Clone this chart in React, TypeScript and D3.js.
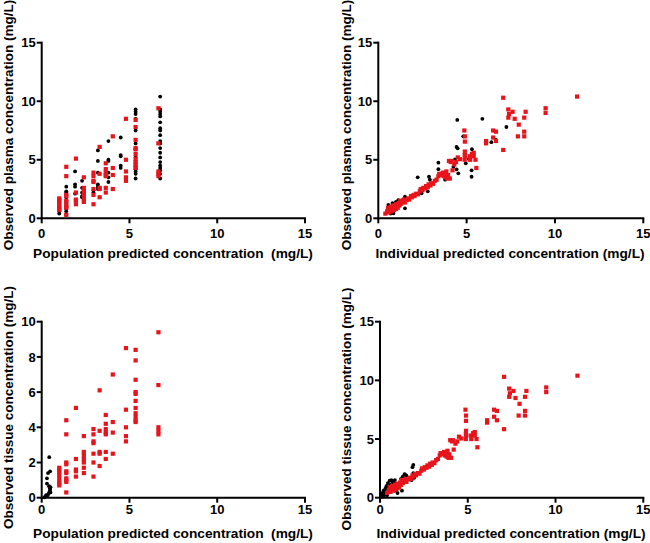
import React from "react";
import * as d3 from "d3";

// ---------- data ----------
// Panel A (population predicted vs observed plasma) - black series
const popPlasmaBlack: [number, number][] = [
  [1.0, 0.4], [1.0, 0.6], [1.0, 0.9], [1.0, 1.1], [1.0, 1.3],
  [1.4, 0.3], [1.4, 0.6], [1.4, 0.8], [1.4, 1.0], [1.4, 1.3], [1.4, 1.5], [1.4, 1.8], [1.4, 2.0], [1.4, 2.2], [1.4, 2.3], [1.4, 2.7],
  [1.9, 2.1], [1.9, 2.7], [1.9, 2.9], [1.9, 4.0],
  [2.3, 1.8], [2.3, 1.9], [2.3, 2.2], [2.3, 2.6], [2.3, 3.2],
  [2.95, 2.2], [2.95, 2.4],
  [3.2, 2.5], [3.2, 2.7], [3.2, 2.9], [3.2, 3.9], [3.2, 4.9], [3.2, 5.8],
  [3.8, 3.1], [3.8, 3.5], [3.8, 3.9], [3.8, 4.9], [3.8, 5.0], [3.8, 6.6],
  [4.5, 4.3], [4.5, 4.5], [4.5, 5.3], [4.5, 5.4], [4.5, 6.9],
  [5.35, 3.4], [5.35, 3.8], [5.35, 4.0], [5.35, 4.2], [5.35, 4.9], [5.35, 5.2], [5.35, 5.9], [5.35, 6.4], [5.35, 7.5], [5.35, 8.5], [5.35, 8.9], [5.35, 9.1], [5.35, 9.3],
  [6.75, 3.4], [6.75, 3.8], [6.75, 4.1], [6.75, 4.3], [6.75, 4.5], [6.75, 4.8], [6.75, 5.2], [6.75, 5.6], [6.75, 6.0], [6.75, 6.4], [6.75, 6.6], [6.75, 7.1], [6.75, 7.5], [6.75, 7.7], [6.75, 8.2], [6.75, 8.7], [6.75, 8.9], [6.75, 9.1], [6.75, 9.3], [6.75, 10.4],
];

// Red series vs population predicted (shared by panels A and C)
const popRed: [number, number][] = [
  [1.0, 0.7], [1.0, 0.8], [1.0, 0.9], [1.0, 1.1], [1.0, 1.3], [1.0, 1.45], [1.0, 1.6], [1.0, 1.7],
  [1.4, 0.3], [1.4, 0.9], [1.4, 1.0], [1.4, 1.1], [1.4, 1.4], [1.4, 1.5], [1.4, 1.9], [1.4, 2.0], [1.4, 3.6], [1.4, 4.4],
  [1.95, 1.2], [1.95, 1.5], [1.95, 1.6], [1.95, 2.2], [1.95, 5.1],
  [2.4, 1.4], [2.4, 1.7], [2.4, 2.0], [2.4, 2.2], [2.4, 2.4], [2.4, 2.6], [2.4, 3.5],
  [2.95, 1.2], [2.95, 2.0], [2.95, 2.5], [2.95, 3.1], [2.95, 3.2], [2.95, 3.6], [2.95, 3.9],
  [3.3, 1.8], [3.3, 2.5], [3.3, 2.6], [3.3, 3.8], [3.3, 6.1],
  [3.65, 2.2], [3.65, 2.6], [3.65, 3.6], [3.65, 3.7], [3.65, 3.9], [3.65, 4.2], [3.65, 4.7],
  [4.05, 2.5], [4.05, 3.7], [4.05, 4.3], [4.05, 7.0],
  [4.8, 3.2], [4.8, 3.5], [4.8, 4.0], [4.8, 5.0], [4.8, 8.5],
  [5.35, 4.3], [5.35, 4.4], [5.35, 4.6], [5.35, 4.8], [5.35, 5.1], [5.35, 5.5], [5.35, 5.9], [5.35, 6.0], [5.35, 6.7], [5.35, 7.8], [5.35, 8.4],
  [6.65, 3.6], [6.65, 3.8], [6.65, 4.0], [6.65, 6.4], [6.65, 9.4],
];

// Panel B (individual predicted vs observed plasma) - black series
const indPlasmaBlack: [number, number][] = [
  [0.66, 0.85], [0.85, 0.43], [0.57, 1.15], [0.94, 1.28], [1.13, 1.56], [1.0, 1.4], [0.8, 1.3], [1.1, 1.1],
  [1.51, 1.85], [1.51, 0.85], [1.2, 1.2], [0.7, 0.4], [1.0, 0.8], [1.4, 1.6],
  [2.08, 1.99], [2.45, 2.13], [2.23, 3.5], [2.87, 3.55], [2.92, 3.3], [2.8, 2.3],
  [3.4, 4.75], [3.4, 4.2], [3.78, 3.3], [4.34, 5.04], [4.25, 4.4], [4.43, 4.18], [4.53, 3.84],
  [4.47, 8.4], [4.43, 6.1], [4.49, 5.98], [5.28, 4.1], [5.28, 3.55],
  [5.89, 8.5], [7.25, 7.8], [4.81, 7.0], [6.4, 6.5], [6.66, 6.7], [5.3, 5.9], [5.13, 5.07], [4.95, 4.7],
];

// Red series vs individual predicted (shared by panels B and D)
const indRed: [number, number][] = [
  [0.4, 0.4], [0.5, 0.6], [0.55, 0.9], [0.6, 0.5], [0.65, 0.75], [0.7, 1.0], [0.75, 0.6], [0.8, 0.85],
  [0.85, 1.1], [0.9, 0.7], [0.95, 0.95], [1.0, 1.2], [1.0, 0.8], [1.05, 1.05], [1.1, 0.9], [1.15, 1.3],
  [1.2, 1.1], [1.25, 1.5], [1.3, 1.25], [1.4, 1.4], [1.45, 1.6], [1.5, 1.35], [1.6, 1.55], [1.7, 1.7],
  [1.75, 1.6], [1.85, 1.9], [1.9, 1.8], [2.0, 2.0], [2.05, 1.9], [2.15, 2.1], [2.25, 2.05], [2.35, 2.3],
  [2.4, 2.5], [2.5, 2.4], [2.55, 2.6], [2.65, 2.55], [2.7, 2.75], [2.8, 2.65], [2.85, 2.9], [2.95, 2.8],
  [3.0, 3.0], [3.1, 2.95], [3.2, 3.2], [3.3, 3.3], [3.4, 3.6], [3.45, 3.8], [3.5, 3.75], [3.6, 3.7],
  [3.65, 3.9], [3.7, 3.6], [3.75, 3.8], [3.8, 3.5], [3.85, 4.0], [3.9, 3.4], [3.95, 3.7], [4.0, 4.9],
  [4.05, 3.4], [4.1, 4.8], [4.15, 4.9], [4.2, 4.1], [4.3, 4.6], [4.4, 4.8], [4.5, 5.2], [4.63, 5.05],
  [4.9, 5.7], [4.92, 5.3], [5.2, 5.0], [5.4, 5.3], [5.5, 5.0], [5.55, 4.3], [5.4, 5.6], [5.3, 5.5],
  [4.87, 7.5], [4.9, 7.0], [4.9, 6.55], [4.89, 5.4], [4.89, 5.0], [5.19, 5.3],
  [6.1, 6.6], [6.1, 6.4], [6.5, 7.5], [6.66, 7.4], [6.5, 6.9], [6.66, 6.6],
  [7.07, 10.3], [7.07, 5.84], [7.36, 9.3], [7.6, 9.1], [7.4, 8.9], [7.36, 8.6], [7.72, 8.5],
  [7.95, 8.0], [7.9, 7.0], [8.34, 9.1], [8.26, 8.6], [8.26, 7.4], [8.26, 7.0],
  [9.47, 9.4], [9.47, 9.0], [11.25, 10.4],
];

// Panel C (population predicted vs observed tissue) - black series
const popTissueBlack: [number, number][] = [
  [0.43, 2.3], [0.48, 1.5], [0.36, 1.4], [0.3, 1.1], [0.3, 0.8], [0.42, 0.65], [0.46, 0.55], [0.48, 0.45],
  [0.45, 0.35], [0.4, 0.25], [0.35, 0.15], [0.25, 0.15], [0.2, 0.05], [0.3, 0.1], [0.15, 0.02], [0.5, 0.6], [0.5, 0.3],
];

// Panel D (individual predicted vs observed tissue) - black series
const indTissueBlack: [number, number][] = [
  [0.05, 0.05], [0.1, 0.2], [0.15, 0.4], [0.2, 0.1], [0.2, 0.6], [0.25, 0.3], [0.3, 0.75], [0.3, 0.5],
  [0.35, 0.9], [0.38, 1.0], [0.4, 0.2], [0.45, 1.25], [0.5, 0.6], [0.55, 1.45], [0.6, 1.1], [0.65, 1.5],
  [0.7, 1.4], [0.75, 1.3], [0.8, 0.9], [0.85, 1.5], [0.9, 0.6], [0.95, 1.2], [1.05, 1.0], [1.2, 1.6],
  [1.25, 0.6], [1.4, 2.0], [1.5, 1.9], [1.8, 1.5], [1.85, 2.6], [1.9, 2.1], [1.9, 2.8], [1.95, 1.7],
  [1.3, 1.8], [1.0, 0.4],
];

const xTicks = [0, 5, 10, 15];
const yTicks15 = [0, 5, 10, 15];
const yTicks10 = [0, 2, 4, 6, 8, 10];

const FONT = "'Liberation Sans', Arial, sans-serif";
const RED = "#e8141c";

type PanelProps = {
  left: number; right: number; bottom: number; top: number;
  yMax: number; yTicks: number[];
  black: [number, number][]; red: [number, number][];
  xTitle: string; yTitle: string;
  xTitleX: number; xTitleY: number; yTitleX: number; yTitleY: number;
  xLabelDy: number;
};

function Panel(p: PanelProps) {
  const x = d3.scaleLinear().domain([0, 15]).range([p.left, p.right]);
  const y = d3.scaleLinear().domain([0, p.yMax]).range([p.bottom, p.top]);
  const tick = 5;
  return (
    <g>
      {p.black.map((d, i) => (
        <circle key={"b" + i} cx={x(d[0])} cy={y(d[1])} r={1.9} fill="#000" />
      ))}
      {p.red.map((d, i) => (
        <rect key={"r" + i} x={x(d[0]) - 2.1} y={y(d[1]) - 2.1} width={4.2} height={4.2} fill={RED} />
      ))}
      {/* axes */}
      <line x1={p.left} x2={p.left} y1={y(p.yMax) - 1} y2={p.bottom + 1} stroke="#000" strokeWidth={2} />
      <line x1={p.left - 1} x2={x(15) + 1} y1={p.bottom} y2={p.bottom} stroke="#000" strokeWidth={2} />
      {xTicks.map((t) => (
        <g key={"xt" + t}>
          <line x1={x(t)} x2={x(t)} y1={p.bottom} y2={p.bottom + tick} stroke="#000" strokeWidth={2} />
          <text x={x(t)} y={p.bottom + p.xLabelDy} textAnchor="middle" fontSize={13} fontWeight="bold" fontFamily={FONT}>{t}</text>
        </g>
      ))}
      {p.yTicks.map((t) => (
        <g key={"yt" + t}>
          <line x1={p.left - tick} x2={p.left} y1={y(t)} y2={y(t)} stroke="#000" strokeWidth={2} />
          <text x={p.left - 6} y={y(t) + 4.6} textAnchor="end" fontSize={13} fontWeight="bold" fontFamily={FONT}>{t}</text>
        </g>
      ))}
      <text x={p.xTitleX} y={p.xTitleY} textAnchor="middle" fontSize={13.7} fontWeight="bold" fontFamily={FONT} style={{ whiteSpace: "pre" }}>{p.xTitle}</text>
      <text transform={`translate(${p.yTitleX},${p.yTitleY}) rotate(-90)`} textAnchor="middle" fontSize={13.5} fontWeight="bold" fontFamily={FONT}>{p.yTitle}</text>
    </g>
  );
}

export default function App() {
  return (
    <svg width={650} height={543} style={{ position: "absolute", left: 0, top: 0, background: "#fff" }}>
      <rect width={650} height={543} fill="#fff" />
      <Panel left={41.7} right={305} bottom={218.3} top={42.7} yMax={15} yTicks={yTicks15}
        black={popPlasmaBlack} red={popRed}
        xTitle={"Population predicted concentration\u00a0\u00a0(mg/L)"} yTitle="Observed plasma concentration (mg/L)"
        xTitleX={173} xTitleY={258} yTitleX={13} yTitleY={125} xLabelDy={19.3} />
      <Panel left={378.3} right={643.3} bottom={218.3} top={42.7} yMax={15} yTicks={yTicks15}
        black={indPlasmaBlack} red={indRed}
        xTitle="Individual predicted concentration (mg/L)" yTitle="Observed plasma concentration (mg/L)"
        xTitleX={510} xTitleY={258} yTitleX={351} yTitleY={125} xLabelDy={19.3} />
      <Panel left={41.7} right={305} bottom={497.7} top={321.7} yMax={10} yTicks={yTicks10}
        black={popTissueBlack} red={popRed}
        xTitle={"Population predicted concentration\u00a0\u00a0(mg/L)"} yTitle="Observed tissue concentration (mg/L)"
        xTitleX={173} xTitleY={537.5} yTitleX={13} yTitleY={407.5} xLabelDy={16.5} />
      <Panel left={380} right={643.3} bottom={497.7} top={321.7} yMax={15} yTicks={yTicks15}
        black={indTissueBlack} red={indRed}
        xTitle="Individual predicted concentration (mg/L)" yTitle="Observed tissue concentration (mg/L)"
        xTitleX={511} xTitleY={537.5} yTitleX={351} yTitleY={409} xLabelDy={16.5} />
    </svg>
  );
}
